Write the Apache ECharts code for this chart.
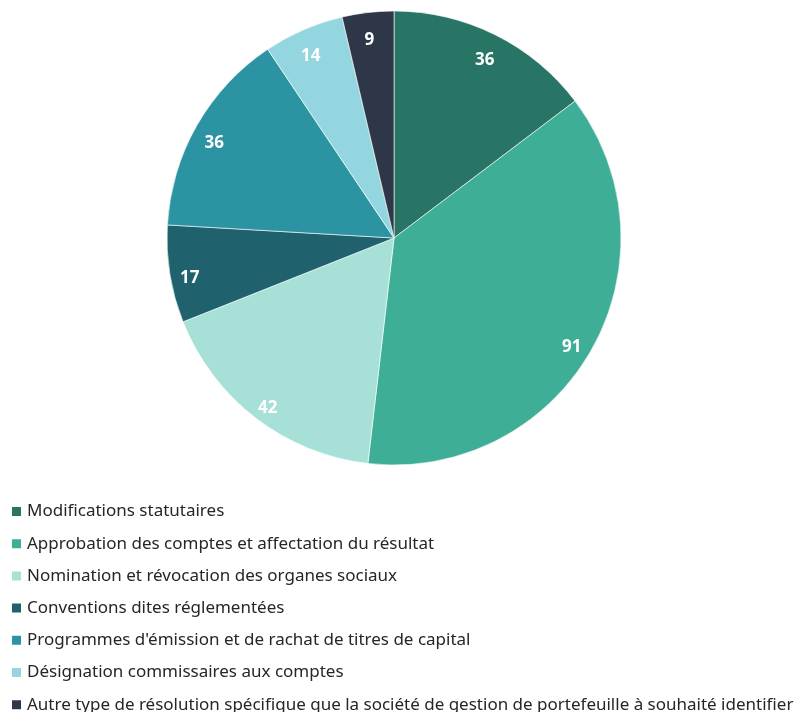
<!DOCTYPE html>
<html>
<head>
<meta charset="utf-8">
<script src="https://cdn.jsdelivr.net/npm/echarts@6/dist/echarts.min.js"></script>
<style>
  html, body { margin: 0; padding: 0; background: #fff; }
  #chart { width: 806px; height: 712px; }
</style>
</head>
<body>
<div id="chart"></div>
<script>
// categories and values, clockwise from 12 o'clock
var categories = [
  'Modifications statutaires',
  'Approbation des comptes et affectation du résultat',
  'Nomination et révocation des organes sociaux',
  'Conventions dites réglementées',
  "Programmes d'émission et de rachat de titres de capital",
  'Désignation commissaires aux comptes',
  'Autre type de résolution spécifique que la société de gestion de portefeuille à souhaité identifier'
];
var values = [36, 91, 42, 17, 36, 14, 9];
var colors = ['#287565', '#3eae97', '#a6e0d7', '#1f626d', '#2c93a3', '#94d6e0', '#2d3748'];

function grafico() {
  var chart = echarts.init(document.getElementById('chart'));
  var data = categories.map(function (c, i) {
    return { name: c, value: values[i] };
  });

  var option = {
    color: colors,
    animation: false,
    legend: {
      orient: 'vertical',
      left: 10,
      top: 503,
      height: 400,
      padding: 0,
      icon: 'rect',
      itemWidth: 11,
      itemHeight: 11,
      itemGap: 15.2,
      textStyle: {
        fontFamily: 'Noto Sans',
        fontSize: 17,
        color: '#262626'
      },
      data: categories
    },
    series: [
      {
        // the actual slices
        type: 'pie',
        center: [394, 238],
        radius: [0, 227],
        startAngle: 90,
        clockwise: true,
        label: { show: false },
        labelLine: { show: false },
        itemStyle: { borderColor: '#fff', borderWidth: 0.6 },
        data: data
      },
      {
        // invisible ring used only to put the labels near the rim
        type: 'pie',
        center: [393, 245],
        radius: [180, 226],
        startAngle: 90,
        clockwise: true,
        silent: true,
        itemStyle: { color: 'rgba(0,0,0,0)' },
        label: {
          show: true,
          position: 'inside',
          color: '#fff',
          fontFamily: 'Open Sans',
          fontWeight: 'bold',
          fontSize: 17,
          formatter: '{c}'
        },
        labelLine: { show: false },
        data: data
      }
    ]
  };

  chart.setOption(option);
}

grafico();
</script>
</body>
</html>
